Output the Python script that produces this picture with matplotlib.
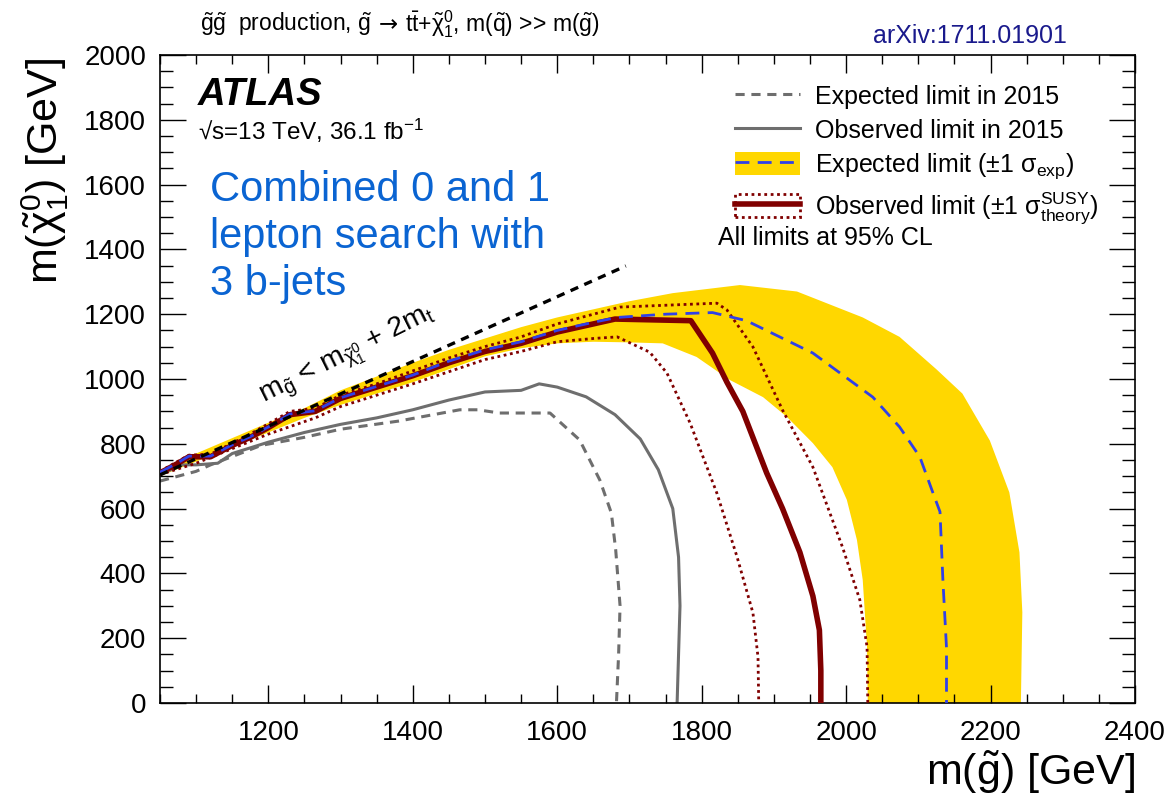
import matplotlib
matplotlib.use('Agg')
import numpy as np
import matplotlib.pyplot as plt
from matplotlib.lines import Line2D
from matplotlib.patches import Patch
from matplotlib.ticker import MultipleLocator
from matplotlib.offsetbox import TextArea, HPacker, AnchoredOffsetbox

plt.rcParams['font.family'] = ['Liberation Sans', 'DejaVu Sans']
plt.rcParams['mathtext.fontset'] = 'custom'
plt.rcParams['mathtext.rm'] = 'Liberation Sans'
plt.rcParams['mathtext.it'] = 'Liberation Sans:italic'
plt.rcParams['mathtext.bf'] = 'Liberation Sans:bold'
plt.rcParams['mathtext.sf'] = 'Liberation Sans'

# ---------------- data ----------------
# kinematic limit m(gluino) = m(chi) + 2 m_t
diag_x = [1050, 1695]
diag_y = [704, 1349]

# expected limit 2015 (grey dashed)
exp15_x = [1050, 1100, 1120, 1190, 1250, 1300, 1380, 1465, 1490, 1520, 1590, 1631, 1659, 1675, 1681, 1687, 1685, 1682]
exp15_y = [685, 715, 735, 795, 820, 845, 870, 905, 905, 895, 895, 812, 688, 586, 472, 300, 150, 0]

# observed limit 2015 (grey solid)
obs15_x = [1050, 1080, 1100, 1130, 1150, 1200, 1250, 1300, 1350, 1400, 1450, 1500, 1550, 1575, 1600, 1640, 1680, 1715, 1740, 1760, 1768, 1770, 1768, 1766]
obs15_y = [705, 735, 735, 740, 770, 805, 835, 860, 880, 905, 935, 960, 965, 985, 975, 945, 890, 815, 720, 600, 450, 300, 150, 0]

# expected limit +-1 sigma band (yellow)
band_up_x = [1050, 1100, 1200, 1250, 1300, 1400, 1450, 1500, 1550, 1600, 1650, 1700, 1760, 1853, 1932, 2023, 2074, 2125, 2161, 2199, 2226, 2240, 2244, 2242]
band_up_y = [720, 770, 865, 910, 965, 1050, 1090, 1125, 1160, 1190, 1215, 1240, 1265, 1290, 1270, 1190, 1130, 1030, 955, 810, 650, 465, 280, 0]
band_dn_x = [1050, 1100, 1200, 1250, 1300, 1400, 1500, 1550, 1600, 1650, 1700, 1746, 1793, 1839, 1885, 1918, 1954, 1981, 2001, 2015, 2023, 2029, 2030]
band_dn_y = [700, 745, 835, 880, 920, 990, 1070, 1095, 1110, 1115, 1113, 1110, 1068, 997, 944, 883, 802, 728, 627, 503, 380, 173, 0]

# expected limit (blue dashed)
exp_x = [1050, 1075, 1090, 1120, 1150, 1175, 1200, 1230, 1265, 1300, 1350, 1400, 1450, 1500, 1550, 1600, 1650, 1683, 1750, 1815, 1862, 1954, 2037, 2074, 2102, 2120, 2130, 2134, 2139, 2139]
exp_y = [712, 742, 762, 762, 797, 822, 852, 892, 902, 942, 977, 1012, 1055, 1090, 1115, 1150, 1175, 1190, 1200, 1205, 1180, 1080, 944, 852, 760, 650, 590, 380, 170, 0]

# observed limit (dark red solid)
obs_x = [1050, 1075, 1090, 1120, 1150, 1175, 1200, 1230, 1265, 1300, 1350, 1400, 1450, 1500, 1550, 1600, 1650, 1680, 1785, 1815, 1835, 1857, 1890, 1912, 1936, 1954, 1963, 1965, 1965]
obs_y = [710, 740, 760, 760, 795, 820, 850, 890, 900, 940, 975, 1010, 1050, 1085, 1110, 1145, 1170, 1185, 1180, 1080, 990, 900, 710, 600, 465, 330, 225, 100, 0]

# observed +1 sigma theory (dotted)
obs_up_x = [1050, 1090, 1120, 1175, 1230, 1265, 1300, 1350, 1400, 1450, 1500, 1550, 1600, 1650, 1687, 1821, 1835, 1871, 1912, 1954, 1995, 2019, 2029, 2030]
obs_up_y = [715, 765, 768, 830, 900, 910, 950, 985, 1025, 1065, 1100, 1130, 1170, 1200, 1222, 1234, 1213, 1099, 904, 728, 481, 318, 173, 0]

# observed -1 sigma theory (dotted)
obs_dn_x = [1050, 1100, 1200, 1265, 1300, 1400, 1500, 1550, 1600, 1650, 1683, 1728, 1752, 1784, 1821, 1849, 1871, 1878, 1879]
obs_dn_y = [705, 740, 830, 880, 915, 985, 1060, 1085, 1115, 1125, 1130, 1083, 1018, 864, 648, 451, 278, 142, 0]

# ---------------- figure ----------------
W, H = 1169, 796
fig = plt.figure(figsize=(W / 100, H / 100), dpi=100)
ax = fig.add_axes([160 / W, 1 - 703 / H, (1135 - 160) / W, (703 - 55) / H])

YEL = '#ffd700'
DRED = '#800000'
BLUE = '#3040e8'
GREY = '#6e6e6e'

ax.fill(np.concatenate([band_up_x, band_dn_x[::-1]]),
        np.concatenate([band_up_y, band_dn_y[::-1]]),
        color=YEL, lw=0, zorder=1)
ax.plot(exp15_x, exp15_y, color=GREY, lw=2.2, ls=(0, (3, 2.2)), zorder=2)
ax.plot(obs15_x, obs15_y, color=GREY, lw=2.2, zorder=2)
ax.plot(obs_up_x, obs_up_y, color=DRED, lw=2.0, ls=(0, (1, 1.3)), zorder=3)
ax.plot(obs_dn_x, obs_dn_y, color=DRED, lw=2.0, ls=(0, (1, 1.3)), zorder=3)
ax.plot(obs_x, obs_y, color=DRED, lw=4.0, zorder=4, solid_joinstyle='round')
ax.plot(exp_x, exp_y, color=BLUE, lw=2.0, ls=(0, (5, 3)), zorder=5)
ax.plot(diag_x, diag_y, color='black', lw=2.4, ls=(0, (2.5, 2)), zorder=6)

ax.set_xlim(1050, 2400)
ax.set_ylim(0, 2000)
ax.xaxis.set_major_locator(MultipleLocator(200))
ax.xaxis.set_minor_locator(MultipleLocator(50))
ax.yaxis.set_major_locator(MultipleLocator(200))
ax.yaxis.set_minor_locator(MultipleLocator(50))
ax.tick_params(which='both', direction='in', top=True, right=True, width=1.0, colors='black')
ax.tick_params(axis='x', which='major', length=13, labelsize=20, pad=12)
ax.tick_params(axis='x', which='minor', length=6.5)
ax.tick_params(axis='y', which='major', length=19, labelsize=20, pad=10)
ax.tick_params(axis='y', which='minor', length=9.5)
for s in ax.spines.values():
    s.set_linewidth(1.2)

# axis titles
fig.text(1135 / W, 1 - 772 / H, r'm($\mathrm{\tilde{g}}$) [GeV]', ha='right', va='center', fontsize=31)
fig.text(45 / W, 1 - 58 / H, r'm($\mathrm{\tilde{\chi}^{0}_{1}}$) [GeV]', ha='center', va='top',
         rotation=90, fontsize=31)

# top title, built from pieces so the arrow comes from DejaVu Sans
tfs = 16.5
t1 = TextArea(r'$\mathrm{\tilde{g}\tilde{g}}$  production, $\mathrm{\tilde{g}}$', textprops=dict(fontsize=tfs))
t2 = TextArea('\u2192', textprops=dict(fontsize=tfs, family='DejaVu Sans'))
t3 = TextArea(r'$\mathrm{t\bar{t}}$+$\mathrm{\tilde{\chi}^{0}_{1}}$, m($\mathrm{\tilde{q}}$) >> m($\mathrm{\tilde{g}}$)',
              textprops=dict(fontsize=tfs))
title_box = HPacker(children=[t1, t2, t3], align='baseline', pad=0, sep=5)
anch = AnchoredOffsetbox(loc='center left', child=title_box, pad=0, borderpad=0, frameon=False,
                         bbox_to_anchor=(200 / W, 1 - 24 / H), bbox_transform=fig.transFigure)
fig.add_artist(anch)

fig.text(1067 / W, 1 - 36 / H, 'arXiv:1711.01901', ha='right', va='center', fontsize=18, color='#1a1a8c')

# ATLAS label
fig.text(198 / W, 1 - 95 / H, 'ATLAS', ha='left', va='center', fontsize=27.5,
         fontweight='bold', fontstyle='italic')
fig.text(198 / W, 1 - 131 / H, '\u221as=13 TeV, 36.1 fb$^{\\mathrm{-1}}$', ha='left', va='center', fontsize=17.5)
fig.text(210 / W, 1 - 237 / H, 'Combined 0 and 1\nlepton search with\n3 b-jets', ha='left', va='center',
         fontsize=30, color='#0a64d2', linespacing=1.21)

# diagonal label
ax.text(1193, 927, r'm$_{\mathrm{\tilde{g}}}$ < m$_{\mathrm{\tilde{\chi}^{0}_{1}}}$ + 2m$_{\mathrm{t}}$',
        rotation=26.5, rotation_mode='anchor', ha='left', va='baseline', fontsize=20.5, zorder=7)

# legend
h1 = Line2D([], [], color=GREY, lw=2.2, ls=(0, (3, 2.2)))
h2 = Line2D([], [], color=GREY, lw=2.2)
h3 = (Patch(facecolor=YEL, edgecolor='none'), Line2D([], [], color=BLUE, lw=2.0, ls=(0, (5, 3))))
h4 = (Patch(facecolor='none', edgecolor=DRED, lw=2.0, ls=(0, (1, 1.3))), Line2D([], [], color=DRED, lw=4.0))
leg = fig.legend([h1, h2, h3, h4],
                 ['Expected limit in 2015', 'Observed limit in 2015',
                  'Expected limit (\u00b11 \u03c3$_{\\mathrm{exp}}$)',
                  'Observed limit (\u00b11 \u03c3$_{\\mathrm{theory}}^{\\mathrm{SUSY}}$)'],
                 loc='upper left', bbox_to_anchor=(735 / W, 1 - 84 / H), frameon=False,
                 fontsize=18, handlelength=2.6, handleheight=1.0, handletextpad=0.6,
                 labelspacing=0.36, borderpad=0, borderaxespad=0)
fig.text(718 / W, 1 - 238 / H, 'All limits at 95% CL', ha='left', va='center', fontsize=18)

fig.savefig('out.png', dpi=100)
